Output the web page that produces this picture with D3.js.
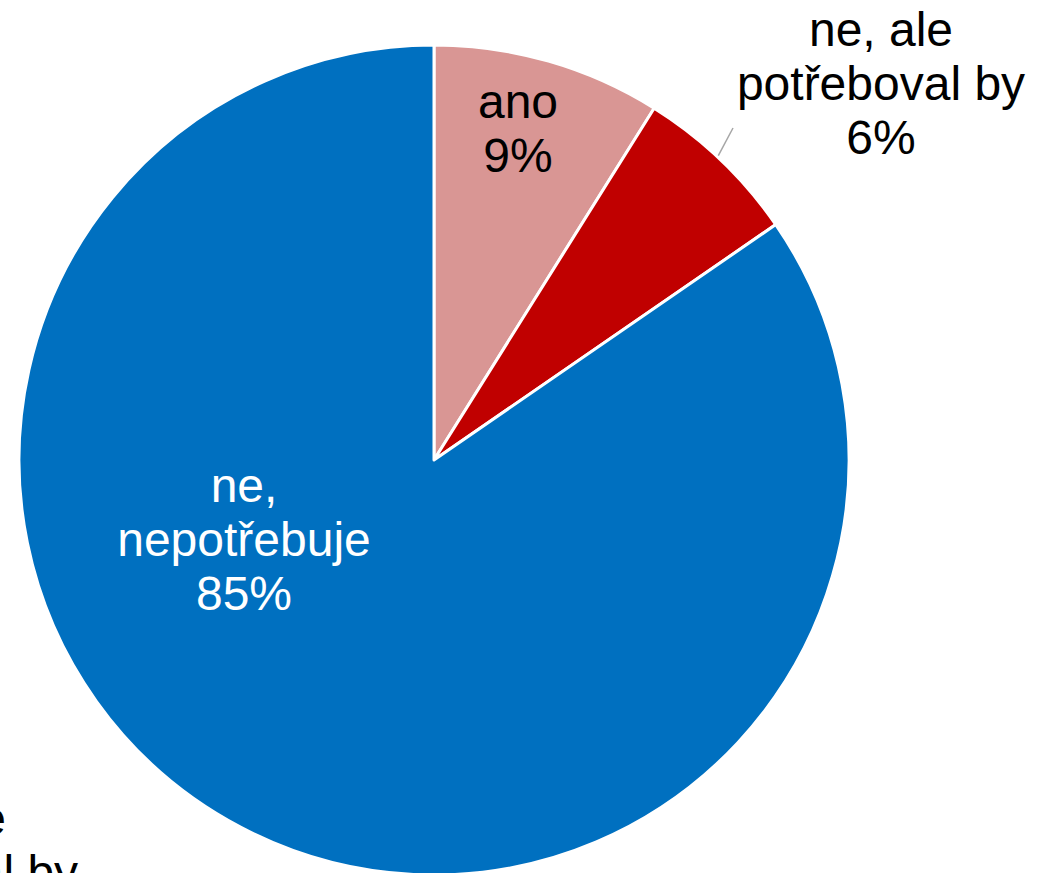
<!DOCTYPE html>
<html lang="cs">
<head>
<meta charset="UTF-8">
<script src="https://cdn.jsdelivr.net/npm/d3@7"></script>
<style>
  html, body { margin: 0; padding: 0; background: #fff; }
  svg { display: block; }
  text { font-family: "Liberation Sans", Arial, sans-serif; }
</style>
</head>
<body>
<svg id="chart" width="1047" height="873"></svg>
<script>
// data
var categories = ["ano", "ne, ale potřeboval by", "ne, nepotřebuje"];
var values = [8.9, 6.5, 84.6];
var percentLabels = ["9%", "6%", "85%"];
var labelLines = [["ano"], ["ne, ale", "potřeboval by"], ["ne,", "nepotřebuje"]];
var colors = ["#D99694", "#C00000", "#0070C0"];

var svg = d3.select("#chart"),
    width = 1047, height = 873,
    cx = 434, cy = 460, radius = 415;

var g = svg.append("g").attr("transform", "translate(" + cx + "," + cy + ")");

var pie = d3.pie().sort(null).value(function(d) { return d; });
var arcs = pie(values);
var arc = d3.arc().innerRadius(0).outerRadius(radius);

g.selectAll("path.slice")
  .data(arcs)
  .enter().append("path")
  .attr("class", "slice")
  .attr("d", arc)
  .attr("fill", function(d, i) { return colors[i]; })
  .attr("stroke", "#fff")
  .attr("stroke-width", 3)
  .attr("stroke-linejoin", "round");

var fontSize = 48, lineH = 54;

function drawLabel(lines, x, y, fill) {
  var t = svg.append("text")
    .attr("text-anchor", "middle")
    .attr("font-size", fontSize)
    .attr("fill", fill);
  lines.forEach(function(s, k) {
    t.append("tspan").attr("x", x).attr("y", y + k * lineH).text(s);
  });
}

// label positions (absolute), one per slice
var labelPos = [[518, 118], [881, 46], [244, 502]];
var labelFill = ["#000", "#000", "#fff"];
arcs.forEach(function(d, i) {
  drawLabel(labelLines[i].concat([percentLabels[i]]), labelPos[i][0], labelPos[i][1], labelFill[i]);
});

// leader line for the small slice
var mid = (arcs[1].startAngle + arcs[1].endAngle) / 2;
var p0 = [cx + Math.sin(mid) * (radius + 2), cy - Math.cos(mid) * (radius + 2)];
svg.append("line")
  .attr("x1", p0[0] - 4).attr("y1", p0[1] - 3)
  .attr("x2", 733).attr("y2", 128)
  .attr("stroke", "#A6A6A6").attr("stroke-width", 1.5);

// clipped duplicate label at the bottom-left edge
drawLabel(labelLines[1].concat([percentLabels[1]]), -66, 835, "#000");
</script>
</body>
</html>
